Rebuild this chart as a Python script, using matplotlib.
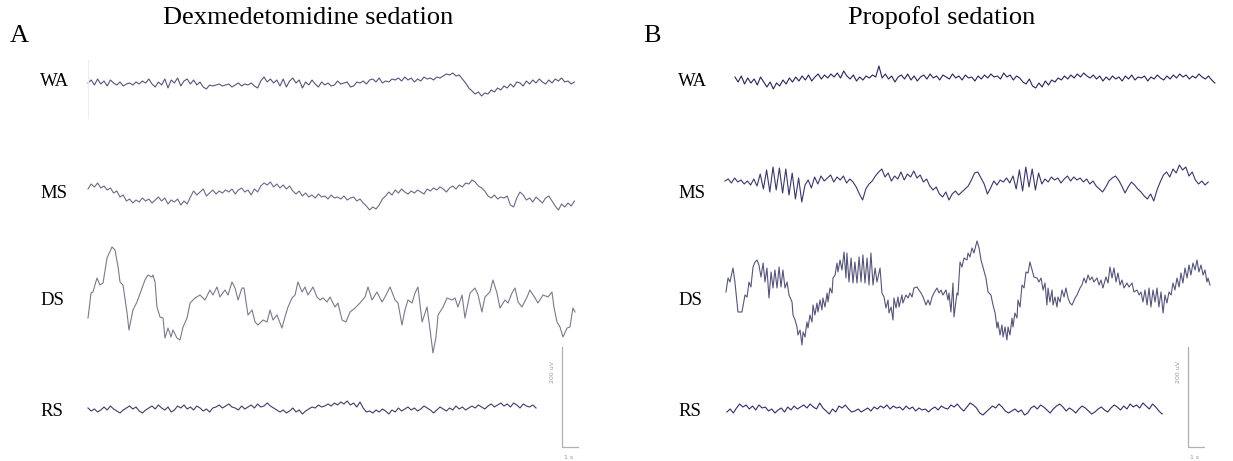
import matplotlib.pyplot as plt
import numpy as np

plt.rcParams['font.family'] = ['Liberation Serif', 'DejaVu Serif']

# EEG traces, values in uV
fs = 5  # samples per second for the uniformly sampled traces

channels = ['WA', 'MS', 'DS', 'RS']

# --- Dexmedetomidine (A) ---
wa_dex = [2, 8, -2, 10, 0, 6, -4, 8, 2, -2, 4, -4, 0, 2, -2, 4, 0, 6, 2, 10,
          0, -6, 4, -2, 10, -8, 8, 2, 12, -4, 6, 10, 0, 8, -2, 4, -6, -10, -2, -4,
          -2, 0, -4, -2, 0, -6, -2, 2, -4, 0, -2, 2, -4, -8, 6, 14, 4, 10, 2, 8,
          -4, 10, -6, 6, 12, 2, 8, -8, 4, -2, 8, 0, -6, 4, -2, 2, -4, -2, 6, 0,
          2, 4, -6, -4, 4, 2, 6, 0, 8, 10, 4, 12, 2, 6, 4, 10, 8, 12, 6, 14,
          8, 12, 4, 10, 6, 14, 10, 12, 8, 14, 12, 16, 20, 18, 22, 16, 18, 10, 2, -8,
          -14, -20, -16, -24, -18, -20, -12, -16, -8, -12, -4, -8, 0, -6, 4, 2, -4, 6, 0, 8,
          2, 10, 4, 0, 8, 2, 10, 6, 12, 4, 6, 0, 4]
ms_dex = [8, 18, 12, 20, 10, 14, 6, 10, 0, 4, -8, -4, -16, -12, -20, -14, -18, -10, -16, -12,
          -20, -14, -8, -16, -10, -22, -14, -18, -12, -24, -16, -22, -8, 4, -4, 2, 8, -6, 0, 6,
          -2, 4, 0, 6, 2, 8, -2, 6, 10, 2, 6, -4, 8, 2, 14, 20, 16, 22, 12, 18,
          10, 16, 8, 14, 4, -2, 4, -6, 0, -8, -4, -10, -2, -8, -6, -12, -4, -10, -8, -12,
          -6, -14, -10, -8, -16, -12, -20, -26, -34, -28, -32, -24, -12, -6, 2, -4, 6, 0, 8, 2,
          -2, 4, 0, 6, 2, -2, 8, 4, 10, 6, 12, 8, 2, 10, 14, 8, 16, 12, 20, 18,
          26, 22, 14, 10, 4, -6, -10, -4, -12, -8, -10, -6, -24, -28, -10, 2, -4, -14, -10, -18,
          -8, -14, -20, -10, -6, -16, -26, -34, -22, -28, -20, -26, -16]
# DS is slow and large: (time s, uV) at turning points
ds_dex = [(0, -36), (0.19, 14), (0.31, 16), (0.56, 44), (0.75, 30), (0.94, 34), (1.19, 84),
          (1.5, 106), (1.69, 100), (1.88, 66), (2.0, 36), (2.19, 30), (2.44, -26), (2.56, -60),
          (2.81, -20), (3.06, -4), (3.38, 24), (3.56, 40), (3.75, 50), (4.0, 46), (4.06, 50),
          (4.19, 36), (4.31, -14), (4.5, -34), (4.69, -36), (4.81, -76), (5.0, -56), (5.19, -74),
          (5.31, -60), (5.56, -76), (5.75, -80), (5.94, -54), (6.19, -36), (6.38, -6), (6.69, 4),
          (7.0, 10), (7.31, 0), (7.62, 20), (7.81, 10), (8.06, 26), (8.25, 6), (8.56, 20),
          (8.75, 10), (9.0, 36), (9.19, 24), (9.38, 0), (9.62, 24), (9.75, 24), (10.0, -30),
          (10.25, -20), (10.44, -44), (10.62, -50), (10.94, -40), (11.19, -44), (11.38, -20),
          (11.56, -40), (11.81, -30), (12.12, -56), (12.31, -34), (12.5, -14), (12.75, 4),
          (12.94, 10), (13.12, 36), (13.38, 16), (13.56, 26), (13.75, 10), (14.06, 26),
          (14.31, 6), (14.5, 0), (14.69, 4), (14.94, -4), (15.12, 6), (15.44, -14), (15.62, -6),
          (15.88, -40), (16.12, -44), (16.38, -24), (16.69, -16), (17.0, -6), (17.31, 6),
          (17.5, 26), (17.75, 0), (18.06, 16), (18.38, -4), (18.56, 6), (18.88, 26), (19.19, 0),
          (19.38, -6), (19.62, -50), (19.81, -20), (20.0, 0), (20.25, -6), (20.44, 14),
          (20.62, 26), (20.88, -44), (21.19, -14), (21.38, -60), (21.56, -106), (21.75, -74),
          (21.88, -30), (22.19, -14), (22.44, 4), (22.75, 0), (22.94, 4), (23.12, -14),
          (23.38, 10), (23.56, -36), (23.88, 14), (24.19, 24), (24.38, 10), (24.62, -24),
          (24.81, 6), (25.12, 16), (25.31, 40), (25.56, 14), (25.75, -16), (26.06, 0),
          (26.25, -6), (26.5, 14), (26.69, 24), (26.88, -4), (27.12, -14), (27.44, 6),
          (27.62, 20), (27.94, 4), (28.12, -6), (28.44, 10), (28.75, 6), (29.0, 16),
          (29.12, -14), (29.31, -44), (29.5, -54), (29.69, -74), (29.94, -56), (30.12, -54),
          (30.31, -16), (30.44, -24)]
rs_dex = [2, -4, 0, -6, -2, 4, -2, 6, 0, -4, -8, -2, 2, 6, 0, 4, -4, -8, -2, 2,
          6, 0, 8, 2, -2, 4, -6, -2, 6, 2, 8, 0, 4, -2, 6, 2, -4, 0, -6, 2,
          4, 8, 2, 6, 10, 4, 2, -2, 6, 0, 4, 8, 2, 10, 4, 6, 12, 6, 2, -2,
          -6, -2, -8, -4, 2, -6, -2, -10, -4, 0, 4, 2, 8, 4, 6, 10, 6, 12, 8, 14,
          10, 16, 8, 12, 4, 14, 2, -6, -4, -8, -2, -6, 0, -4, -10, -2, -6, 2, -4, 0,
          4, -2, 2, -4, 0, 6, 2, -2, -8, -2, 4, 0, -4, 2, -2, 6, 0, 4, -2, 2,
          6, 2, 8, 4, 0, 6, 10, 4, 8, 12, 6, 10, 4, 12, 8, 2, 10, 6, 4, 8, 2]

# --- Propofol (B) ---
wa_pro = [6, -4, 8, -8, 4, -6, 2, -10, 6, -4, -14, -4, -18, -6, -12, 0, -8, 4, -4, 6,
          -2, 8, 0, 10, -2, 6, 12, 2, 10, 4, 12, 6, 14, 4, 18, 8, 2, 10, -2, 6,
          0, 8, 4, 10, 6, 28, 4, 12, 2, 8, -4, 6, 10, 2, 12, 0, 8, -2, 6, 10,
          2, 12, 4, 8, 0, 10, 6, 2, 12, 4, 8, 0, 10, 4, 6, -2, 8, 2, 10, 4,
          12, 6, 8, 2, 14, 6, 10, 0, 8, 4, -4, -8, 2, -12, -16, -6, -14, -2, -10, 0,
          -4, 4, 0, 8, 2, 10, 4, 12, 6, 14, 8, 4, 10, 2, 8, -2, 6, 0, 8, 2,
          6, -2, 8, 2, 10, 0, 6, 4, 8, -2, 6, 2, 10, 4, 0, 8, 2, 10, 4, 12,
          6, 10, 2, 8, 4, 12, 6, 2, 8, 0, -6]
ms_pro = [2, 6, -2, 8, 0, 4, -4, 2, -6, 6, -8, 16, -14, 24, -20, 30, -16, 28, -22, 26,
          -26, 18, -34, 8, -40, -6, 4, -12, 10, -4, 12, 2, 8, 14, 0, 10, 4, 12, -2, 6,
          0, -10, -24, -36, -14, -4, 2, 12, 20, 26, 10, 18, 2, 12, 6, 20, 4, 16, 10, 22,
          8, 14, 0, 6, -8, -16, -10, -24, -30, -20, -36, -24, -18, -26, -20, -14, -8, 4, 18, 20,
          8, -4, -24, -12, 2, -6, 4, 0, 8, -2, 12, -14, 24, -18, 30, -10, 26, -16, 18, -4,
          6, 0, 10, 4, 8, -2, 6, 12, 2, 10, 4, 8, 0, 6, -4, 2, -8, -14, -20, -10,
          2, 8, 12, 4, -8, -22, -10, 0, -6, -14, -20, -28, -34, -24, -38, -16, 0, 14, 20, 10,
          26, 18, 34, 24, 30, 12, 20, 4, -4, 2, -6, 0]
ds_pro = [(0.06, 0), (0.19, 28), (0.31, 20), (0.5, 48), (0.62, 20), (0.75, -20), (0.81, -40),
          (1.06, -40), (1.25, -6), (1.38, -10), (1.5, 20), (1.62, 10), (1.75, 50), (1.88, 60),
          (2.0, 64), (2.12, 54), (2.25, 30), (2.38, 58), (2.5, 20), (2.62, 48), (2.75, -12),
          (2.88, 40), (3.0, 8), (3.12, 44), (3.25, 8), (3.38, 50), (3.5, 10), (3.62, 44),
          (3.75, 8), (3.88, 20), (4.0, -6), (4.19, -20), (4.25, -46), (4.38, -56), (4.5, -70),
          (4.56, -86), (4.69, -76), (4.81, -106), (4.88, -80), (5.0, -90), (5.12, -60),
          (5.19, -72), (5.31, -46), (5.44, -60), (5.5, -26), (5.62, -46), (5.75, -22),
          (5.81, -40), (5.94, -16), (6.06, -36), (6.12, -12), (6.25, -30), (6.38, -2),
          (6.44, -20), (6.56, 8), (6.69, -2), (6.75, 28), (6.88, 34), (7.0, 58), (7.06, 40),
          (7.19, 64), (7.31, 44), (7.44, 80), (7.56, 28), (7.62, 78), (7.75, 20), (7.88, 68),
          (8.0, 18), (8.12, 60), (8.25, 18), (8.38, 70), (8.5, 20), (8.62, 74), (8.75, 18),
          (8.88, 68), (9.0, 14), (9.12, 78), (9.25, 14), (9.38, 48), (9.5, 20), (9.69, 48),
          (9.81, -2), (9.94, -10), (10.06, -32), (10.19, -16), (10.25, -42), (10.38, -30),
          (10.5, -56), (10.56, -12), (10.69, -32), (10.81, -10), (10.88, -30), (11.06, -6),
          (11.12, -22), (11.31, -6), (11.44, -12), (11.56, -2), (11.69, -10), (11.81, 8),
          (12.0, 10), (12.12, 4), (12.25, -2), (12.38, -10), (12.56, -26), (12.69, -16),
          (12.81, -26), (12.94, -10), (13.06, -2), (13.25, 8), (13.38, -2), (13.5, 4),
          (13.62, -6), (13.81, 4), (13.94, -16), (14.0, -2), (14.12, -40), (14.25, 18),
          (14.31, -50), (14.5, -2), (14.56, -6), (14.69, 60), (14.81, 50), (14.94, 68),
          (15.12, 64), (15.19, 78), (15.31, 70), (15.44, 88), (15.56, 78), (15.75, 102),
          (15.88, 88), (16.0, 64), (16.12, 50), (16.31, 28), (16.44, 0), (16.62, -6),
          (16.75, -26), (16.88, -42), (17.0, -72), (17.06, -60), (17.19, -86), (17.31, -66),
          (17.38, -90), (17.5, -70), (17.62, -96), (17.69, -70), (17.81, -86), (17.94, -52),
          (18.0, -70), (18.12, -42), (18.25, -52), (18.31, -16), (18.44, -30), (18.56, 14),
          (18.69, 8), (18.81, 40), (18.94, 38), (19.06, 60), (19.19, 44), (19.31, 30),
          (19.5, 28), (19.62, 20), (19.75, 28), (19.88, 4), (20.0, 18), (20.12, -26),
          (20.19, 8), (20.31, -20), (20.44, 4), (20.5, -26), (20.62, -10), (20.75, -30),
          (20.81, -10), (20.94, -20), (21.06, 4), (21.19, -10), (21.31, 8), (21.44, -12),
          (21.56, -22), (21.69, -26), (21.88, -12), (22.0, -6), (22.19, 8), (22.31, 14),
          (22.44, 28), (22.56, 18), (22.69, 34), (22.81, 24), (22.94, 30), (23.06, 20),
          (23.25, 28), (23.38, 14), (23.5, 24), (23.62, 8), (23.81, 30), (23.94, 18),
          (24.06, 50), (24.19, 28), (24.31, 48), (24.44, 20), (24.56, 38), (24.69, 14),
          (24.81, 24), (24.94, 8), (25.12, 18), (25.25, 10), (25.44, 18), (25.56, 0),
          (25.75, 4), (25.88, -6), (26.0, 0), (26.12, -20), (26.25, 4), (26.38, -26),
          (26.5, 8), (26.62, -30), (26.75, 4), (26.88, -20), (27.0, 8), (27.12, -30),
          (27.25, 0), (27.38, -42), (27.5, -6), (27.62, -22), (27.75, 0), (27.88, -6),
          (28.0, 18), (28.12, 4), (28.25, 28), (28.38, 10), (28.5, 38), (28.62, 18),
          (28.75, 48), (28.88, 28), (29.0, 54), (29.12, 34), (29.25, 58), (29.38, 44),
          (29.5, 64), (29.62, 40), (29.75, 54), (29.88, 34), (30.0, 44), (30.12, 20),
          (30.19, 28), (30.31, 14)]
rs_pro = [-4, 2, -6, 4, 12, 6, 10, 2, 8, 0, 10, 4, 6, -2, 2, -6, 0, 4, -4, 6,
          0, 8, 2, 6, 10, 4, 12, 6, 2, 14, 4, -2, -8, 2, -4, 8, 4, 10, 2, -4,
          -2, 2, -4, 0, 4, -2, 6, 2, 8, 4, 10, 2, 8, 4, 6, 0, 8, 2, 6, -2,
          4, 0, 2, -4, 2, 6, 0, 8, 4, 2, 10, 6, 12, 4, -2, 6, 14, 10, 4, -6,
          -10, -4, 2, 8, 4, 12, 6, -2, -6, -2, 2, -4, 0, -10, -6, 4, 8, 2, 10, 6,
          0, -6, 2, 8, 12, 6, -2, 4, 0, -6, 2, 8, 4, -2, -8, -4, 2, 6, 0, -4,
          4, 10, 6, 0, 8, 2, 12, 6, 10, 4, 14, 8, 2, 12, 6, -2, -8]

# --- layout (figure pixels) ---
W, H = 1233, 461
px_per_s = 16
uv_per_px = 2

fig = plt.figure(figsize=(W / 100, H / 100), dpi=100)


def make_panel(left_px, width_px, t0_px):
    ax = fig.add_axes([left_px / W, 0, width_px / W, 1])
    ax.set_xlim(-t0_px / px_per_s, (width_px - t0_px) / px_per_s)
    ax.set_ylim(-H * uv_per_px, 0)
    ax.axis('off')
    return ax


ax_a = make_panel(0, 616, 88)
ax_b = make_panel(616, 617, 109)


def uniform(ax, vals, row_px, start_s, color):
    t = start_s + np.arange(len(vals)) / fs
    ax.plot(t, np.array(vals) - row_px * uv_per_px, color=color, lw=0.8)


def pairs(ax, pts, row_px, color):
    t, v = zip(*pts)
    ax.plot(t, np.array(v) - row_px * uv_per_px, color=color, lw=0.8)


# panel A
uniform(ax_a, wa_dex, 84, 0, '#55557c')
uniform(ax_a, ms_dex, 193, 0, '#6a6a86')
pairs(ax_a, ds_dex, 300, '#7a7a8c')
uniform(ax_a, rs_dex, 409, 0, '#3e3e68')
ax_a.plot([0, 0], [-60 * uv_per_px, -118 * uv_per_px], color='#eeeeee', lw=0.8)

# panel B
uniform(ax_b, wa_pro, 80, 0.62, '#26265e')
uniform(ax_b, ms_pro, 182, 0, '#38386a')
pairs(ax_b, ds_pro, 292, '#55557a')
uniform(ax_b, rs_pro, 410, 0.12, '#303066')

label_rows = [82, 193, 300, 411]
for ax, x_lab in [(ax_a, -3.0), (ax_b, -2.94)]:
    for name, row in zip(channels, label_rows):
        ax.text(x_lab, -row * uv_per_px, name, fontsize=13.5, ha='left', va='center')

# scale bars: 200 uV and 1 s
for ax, tb in [(ax_a, 29.62), (ax_b, 28.94)]:
    y0 = -447 * uv_per_px
    ax.plot([tb, tb, tb + 1], [y0 + 200, y0, y0], color='#b0b0b0', lw=0.9)
    ax.text(tb - 0.6, y0 + 150, '200 uV', rotation=90, fontsize=4.5, color='#999999',
            ha='center', va='center', family='DejaVu Sans')
    ax.text(tb + 0.4, y0 - 20, '1 s', fontsize=4.5, color='#999999',
            ha='center', va='center', family='DejaVu Sans')

fig.text(308 / W, 1 - 18 / H, 'Dexmedetomidine sedation', fontsize=19, ha='center', va='center')
fig.text(942 / W, 1 - 18 / H, 'Propofol sedation', fontsize=19, ha='center', va='center')
fig.text(10 / W, 1 - 36 / H, 'A', fontsize=19, ha='left', va='center')
fig.text(643 / W, 1 - 36 / H, 'B', fontsize=19, ha='left', va='center')

fig.savefig('out.png', dpi=100)
